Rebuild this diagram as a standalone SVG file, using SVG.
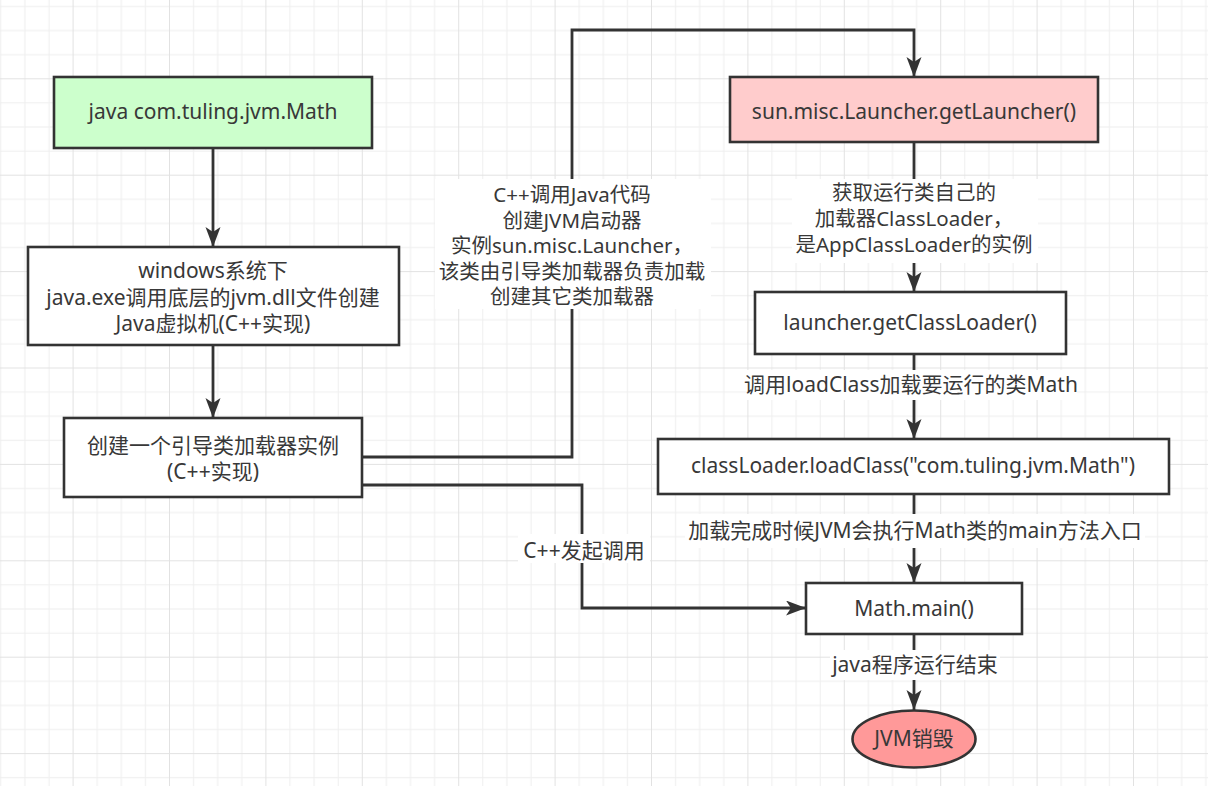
<svg xmlns="http://www.w3.org/2000/svg" width="1208" height="786" viewBox="0 0 1208 786">
<style>
.box{stroke:#333333;stroke-width:2.6}
.t{font-family:"Noto Sans","Noto Sans CJK SC",sans-serif;font-size:21px;fill:#383838;text-anchor:middle}
.m{font-size:20.5px}
.edge{fill:none;stroke:#333333;stroke-width:2.8}
.lbl{fill:#ffffff}
</style>
<defs>
<pattern id="grid" patternUnits="userSpaceOnUse" x="72.6" y="78.3" width="96.4" height="96.4">
<rect x="0" y="24.1" width="96.4" height="1" fill="#eeeeee"/>
<rect x="0" y="48.2" width="96.4" height="1" fill="#eeeeee"/>
<rect x="0" y="72.3" width="96.4" height="1" fill="#eeeeee"/>
<rect x="24.1" y="0" width="1" height="96.4" fill="#eeeeee"/>
<rect x="48.2" y="0" width="1" height="96.4" fill="#eeeeee"/>
<rect x="72.3" y="0" width="1" height="96.4" fill="#eeeeee"/>
<rect x="0" y="0" width="96.4" height="1" fill="#e2e2e2"/>
<rect x="0" y="0" width="1" height="96.4" fill="#e2e2e2"/>
</pattern>
<marker id="arr" markerUnits="userSpaceOnUse" markerWidth="24" markerHeight="18" refX="20" refY="7.5" orient="auto">
<path d="M0,0 L20,7.5 L0,15 L5,7.5 Z" fill="#333333"/>
</marker>
</defs>
<rect width="1208" height="786" fill="#ffffff"/>
<rect width="1208" height="786" fill="url(#grid)"/>

<g id="connectors">
<path class="edge" d="M213,148 V247" marker-end="url(#arr)"/>
<path class="edge" d="M213,345 V418" marker-end="url(#arr)"/>
<path class="edge" d="M362,457 H572 V30 H914 V77" marker-end="url(#arr)"/>
<path class="edge" d="M914,142 V292" marker-end="url(#arr)"/>
<path class="edge" d="M914,354 V439" marker-end="url(#arr)"/>
<path class="edge" d="M914,494 V583" marker-end="url(#arr)"/>
<path class="edge" d="M362,485 H582 V608 H806" marker-end="url(#arr)"/>
<path class="edge" d="M914,634 V710" marker-end="url(#arr)"/>
<g id="label-cpp-java">
<rect class="lbl" x="435" y="179" width="276" height="130"/>
<text class="t m" x="572" y="202">C++调用Java代码</text>
<text class="t m" x="572" y="227.5">创建JVM启动器</text>
<text class="t m" x="572" y="253">实例sun.misc.Launcher，</text>
<text class="t m" x="572" y="278.5">该类由引导类加载器负责加载</text>
<text class="t m" x="572" y="304">创建其它类加载器</text>
</g>
<g id="label-get-loader">
<rect class="lbl" x="792" y="179" width="246" height="84"/>
<text class="t m" x="914" y="200">获取运行类自己的</text>
<text class="t m" x="914" y="226">加载器ClassLoader，</text>
<text class="t m" x="914" y="252">是AppClassLoader的实例</text>
</g>
<g id="label-loadclass">
<rect class="lbl" x="747" y="370" width="330" height="30"/>
<text class="t" x="911" y="392">调用loadClass加载要运行的类Math</text>
</g>
<g id="label-main">
<rect class="lbl" x="685" y="514" width="460" height="34"/>
<text class="t" x="915" y="538">加载完成时候JVM会执行Math类的main方法入口</text>
</g>
<g id="label-cpp-call">
<rect class="lbl" x="518" y="534" width="132" height="29"/>
<text class="t" x="584" y="558">C++发起调用</text>
</g>
<g id="label-end">
<rect class="lbl" x="830" y="650" width="170" height="30"/>
<text class="t" x="915" y="672">java程序运行结束</text>
</g>
</g>

<g id="node-java">
<rect class="box" x="54" y="77" width="318" height="71" fill="#ccffcc"/>
<text class="t" x="213" y="119">java com.tuling.jvm.Math</text>
</g>
<g id="node-windows">
<rect class="box" x="28" y="247" width="371" height="98" fill="#ffffff"/>
<text class="t" x="213" y="278">windows系统下</text>
<text class="t" x="213" y="305">java.exe调用底层的jvm.dll文件创建</text>
<text class="t" x="213" y="331">Java虚拟机(C++实现)</text>
</g>
<g id="node-bootstrap">
<rect class="box" x="64" y="418" width="298" height="79" fill="#ffffff"/>
<text class="t" x="213" y="453">创建一个引导类加载器实例</text>
<text class="t" x="213" y="479">(C++实现)</text>
</g>
<g id="node-launcher">
<rect class="box" x="730" y="77" width="368" height="65" fill="#ffcccc"/>
<text class="t" x="914" y="119">sun.misc.Launcher.getLauncher()</text>
</g>
<g id="node-getclassloader">
<rect class="box" x="755" y="292" width="311" height="62" fill="#ffffff"/>
<text class="t" x="910" y="330">launcher.getClassLoader()</text>
</g>
<g id="node-loadclass">
<rect class="box" x="658" y="439" width="511" height="55" fill="#ffffff"/>
<text class="t" x="913" y="473">classLoader.loadClass("com.tuling.jvm.Math")</text>
</g>
<g id="node-main">
<rect class="box" x="806" y="583" width="216" height="51" fill="#ffffff"/>
<text class="t" x="914" y="616">Math.main()</text>
</g>
<g id="node-destroy">
<ellipse class="box" cx="914" cy="739" rx="61.5" ry="28.5" fill="#ff9999"/>
<text class="t" x="914" y="746">JVM销毁</text>
</g>
</svg>
